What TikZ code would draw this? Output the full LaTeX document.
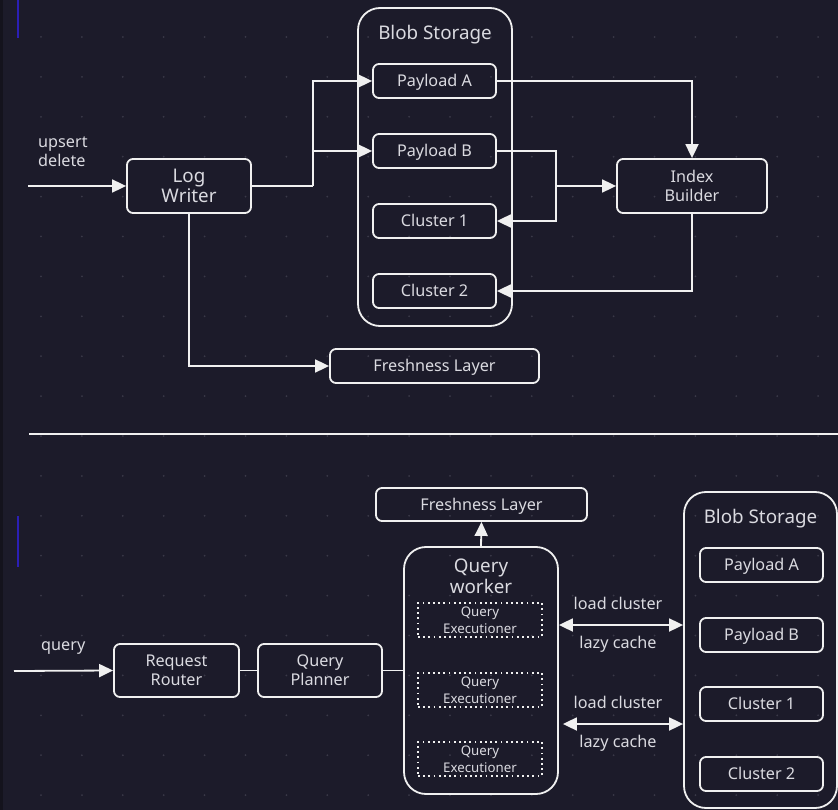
\documentclass[tikz,border=0pt]{standalone}
\usepackage{fontspec}
\setmainfont{Noto Sans}
\usetikzlibrary{arrows.meta}

\definecolor{bgc}{HTML}{1C1B2A}
\definecolor{edgec}{HTML}{14131D}
\definecolor{ink}{HTML}{F0F0F0}
\definecolor{txt}{HTML}{DADAE0}
\definecolor{dotc}{HTML}{3A3948}
\definecolor{markc}{HTML}{2B1FB5}

\tikzset{
  box/.style={draw=ink, line width=1.8pt, rounded corners=6pt, text=txt,
    font=\fontsize{16.2}{19}\selectfont, align=center, inner sep=0pt},
  oneline/.style={text height=11.6pt, text depth=0pt},
  onetitle/.style={text height=13.4pt, text depth=0pt},
  bigbox/.style={box, font=\fontsize{18.8}{20.5}\selectfont},
  execbox/.style={draw=ink, line width=1.8pt, dash pattern=on 1.8pt off 3.4pt,
    text=txt, font=\fontsize{13.3}{17}\selectfont, align=center, inner sep=0pt},
  container/.style={draw=ink, line width=1.8pt, rounded corners=22pt, inner sep=0pt},
  title/.style={text=txt, font=\fontsize{18.8}{21}\selectfont, align=center, inner sep=0pt},
  lbl/.style={text=txt, font=\fontsize{16.2}{19}\selectfont, inner sep=0pt},
  wire/.style={draw=ink, line width=1.8pt},
  arr/.style={wire, -{Triangle[length=14pt,width=13pt]}},
  dbl/.style={wire, {Triangle[length=14pt,width=13pt]}-{Triangle[length=14pt,width=13pt]}},
}

\begin{document}
\begin{tikzpicture}[x=1pt, y=-1pt]
  % canvas
  \fill[bgc] (0,0) rectangle (838,810);
  \fill[edgec] (0,0) rectangle (3,810);
  \useasboundingbox (0,0) rectangle (838,810);
  \draw[markc, line width=1.3pt] (18,0) -- (18,38);
  \draw[markc, line width=1.3pt] (18,516) -- (18,567);
  % dot grid
  \foreach \i in {0,...,19}
    \foreach \j in {0,...,19}
      \fill[dotc] (41+40.9*\i, 37+39.9*\j) circle (1pt);

  % ---------- write path ----------
  \node[lbl, anchor=west, align=left] (ud) at (38,152) {upsert\\delete};
  \coordinate (in1) at (28,186);
  \node[bigbox, minimum width=124pt, minimum height=54pt] (lw) at (189,186) {Log\\Writer};

  \node[container, minimum width=154pt, minimum height=318pt] (bs1) at (435,167) {};
  \node[title, onetitle] (bs1t) at (435,33) {Blob Storage};
  \node[box, oneline, minimum width=123pt, minimum height=34pt] (pa1) at (434.5,81) {Payload A};
  \node[box, oneline, minimum width=123pt, minimum height=34pt] (pb1) at (434.5,151) {Payload B};
  \node[box, oneline, minimum width=123pt, minimum height=34pt] (c11) at (434.5,221) {Cluster 1};
  \node[box, oneline, minimum width=123pt, minimum height=34pt] (c21) at (434.5,291) {Cluster 2};

  \node[box, minimum width=150pt, minimum height=54pt] (ib) at (692,186) {Index\\Builder};
  \node[box, oneline, minimum width=209pt, minimum height=34pt] (fl1) at (434.5,366) {Freshness Layer};

  \coordinate (j1) at (313,186);
  \coordinate (j2) at (556,221);
  \coordinate (j3) at (556,186);

  \draw[arr] (in1) -- (lw.west);
  \draw[wire] (lw.east) -- (j1);
  \draw[arr] (j1) |- (pa1.west);
  \draw[arr] (j1) |- (pb1.west);
  \draw[arr] (lw.south) |- (fl1.west);
  \draw[arr] (pa1.east) -| (ib.north);
  \draw[arr] (pb1.east) -| (j2) -- (c11.east);
  \draw[arr] (j3) -- (ib.west);
  \draw[arr] (ib.south) |- (c21.east);

  % separator
  \coordinate (sepL) at (29,434);
  \coordinate (sepR) at (838,434);
  \draw[wire] (sepL) -- (sepR);

  % ---------- query path ----------
  \node[lbl, oneline, anchor=west] (ql) at (41,645) {query};
  \coordinate (in2) at (14,671);
  \node[box, minimum width=125pt, minimum height=53pt] (rr) at (176.5,670.5) {Request\\Router};
  \node[box, minimum width=124pt, minimum height=53pt] (qp) at (320,670.5) {Query\\Planner};

  \node[container, minimum width=154pt, minimum height=247pt] (qw) at (481,670.5) {};
  \node[title] (qwt) at (481,576) {Query\\worker};
  \node[execbox, minimum width=124pt, minimum height=34pt] (ex1) at (480,620) {Query\\Executioner};
  \node[execbox, minimum width=124pt, minimum height=34pt] (ex2) at (480,690) {Query\\Executioner};
  \node[execbox, minimum width=124pt, minimum height=34pt] (ex3) at (480,759) {Query\\Executioner};

  \node[box, oneline, minimum width=211pt, minimum height=33pt] (fl2) at (481.5,504.5) {Freshness Layer};

  \node[container, minimum width=153pt, minimum height=316pt] (bs2) at (760.5,650) {};
  \node[title, onetitle] (bs2t) at (760.5,517) {Blob Storage};
  \node[box, oneline, minimum width=123pt, minimum height=34pt] (pa2) at (761.5,565) {Payload A};
  \node[box, oneline, minimum width=123pt, minimum height=34pt] (pb2) at (761.5,635) {Payload B};
  \node[box, oneline, minimum width=123pt, minimum height=34pt] (c12) at (761.5,704) {Cluster 1};
  \node[box, oneline, minimum width=123pt, minimum height=34pt] (c22) at (761.5,774) {Cluster 2};

  \draw[arr] (in2) -- (rr.west);
  \draw[wire] (rr.east) -- (qp.west);
  \draw[wire] (qp.east) -- (qw.west);
  \draw[arr] (qw.north) -- (fl2.south);

  \coordinate (lk1) at (620,625);
  \coordinate (lk2) at (620,724);
  \draw[dbl] (qw.east |- lk1) -- (bs2.west |- lk1);
  \draw[dbl] ([xshift=4pt]qw.east |- lk2) -- (bs2.west |- lk2);
  \node[lbl, oneline] (lc1) at (618,604) {load cluster};
  \node[lbl, oneline] (zc1) at (618,643) {lazy cache};
  \node[lbl, oneline] (lc2) at (618,703) {load cluster};
  \node[lbl, oneline] (zc2) at (618,742) {lazy cache};
\end{tikzpicture}
\end{document}
